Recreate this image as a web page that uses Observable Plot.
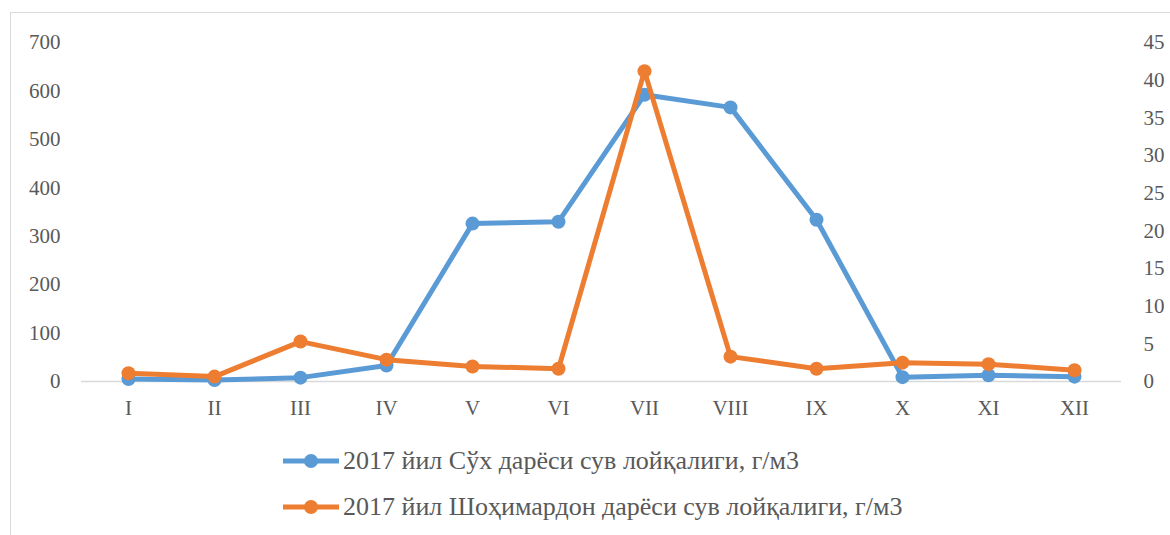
<!DOCTYPE html>
<html>
<head>
<meta charset="utf-8">
<script src="https://cdn.jsdelivr.net/npm/d3@7"></script>
<script src="https://cdn.jsdelivr.net/npm/@observablehq/plot@0.6"></script>
<style>
  html, body { margin: 0; padding: 0; background: #fff; }
  #wrap { position: relative; width: 1170px; height: 535px; overflow: hidden; font-family: "Liberation Serif", "Times New Roman", serif; }
  #frame { position: absolute; left: 10px; top: 12px; width: 1200px; height: 600px; border: 1px solid #d9d9d9; box-sizing: border-box; }
  #chart { position: absolute; left: 0; top: 0; }
  .leg { position: absolute; left: 283px; display: flex; align-items: center; font-size: 26px; line-height: 30px; color: #595959; white-space: nowrap; }
  .leg svg { margin-right: 4px; }
</style>
</head>
<body>
<div id="wrap">
  <div id="frame"></div>
  <div id="chart"></div>
  <div class="leg" style="top:446px"><svg width="56" height="30"><line x1="0" x2="56" y1="15" y2="15" stroke="#5B9BD5" stroke-width="5"/><circle cx="28" cy="15" r="7" fill="#5B9BD5"/></svg><span id="lab1"></span></div>
  <div class="leg" style="top:492px"><svg width="56" height="30"><line x1="0" x2="56" y1="15" y2="15" stroke="#ED7D31" stroke-width="5"/><circle cx="28" cy="15" r="7" fill="#ED7D31"/></svg><span id="lab2"></span></div>
</div>
<script>
const months = ["I","II","III","IV","V","VI","VII","VIII","IX","X","XI","XII"];
const sukh = [5, 3, 8, 33, 326, 330, 592, 566, 334, 9, 13, 10];
const shohimardon = [1.1, 0.65, 5.3, 2.9, 2.0, 1.7, 41.2, 3.3, 1.7, 2.5, 2.3, 1.5];
const leftTicks = [0, 100, 200, 300, 400, 500, 600, 700];
const rightTicks = [0, 5, 10, 15, 20, 25, 30, 35, 40, 45];
const seriesNames = ["2017 йил Сўх дарёси сув лойқалиги, г/м3", "2017 йил Шоҳимардон дарёси сув лойқалиги, г/м3"];
const colors = ["#5B9BD5", "#ED7D31"];

const leftMax = 700, rightMax = 45;
const k = leftMax / rightMax;

const blueData = months.map((m, i) => ({m, v: sukh[i]}));
const orangeData = months.map((m, i) => ({m, v: shohimardon[i] * k}));

document.getElementById("lab1").textContent = seriesNames[0];
document.getElementById("lab2").textContent = seriesNames[1];

const chart = Plot.plot({
  width: 1170,
  height: 430,
  marginLeft: 81,
  marginRight: 49,
  marginTop: 42,
  marginBottom: 49,
  style: { fontFamily: "'Liberation Serif', 'Times New Roman', serif", fontSize: "21px", color: "#595959", background: "transparent" },
  x: { type: "point", domain: months, padding: 0.5 },
  y: { domain: [0, leftMax] },
  marks: [
    Plot.ruleY([0], { stroke: "#d9d9d9", strokeWidth: 1.5 }),
    Plot.axisX({ tickSize: 0, tickPadding: 19, label: null, fill: "#595959" }),
    Plot.axisY(leftTicks, { anchor: "left", tickSize: 0, tickPadding: 21, label: null, fill: "#595959" }),
    Plot.axisY(rightTicks.map(t => t * k), { anchor: "right", tickSize: 0, tickPadding: 22, label: null, fill: "#595959", tickFormat: d => String(Math.round(d / k)) }),
    Plot.line(blueData, { x: "m", y: "v", stroke: colors[0], strokeWidth: 5, strokeLinejoin: "round" }),
    Plot.dot(blueData, { x: "m", y: "v", r: 7, fill: colors[0] }),
    Plot.line(orangeData, { x: "m", y: "v", stroke: colors[1], strokeWidth: 5, strokeLinejoin: "round" }),
    Plot.dot(orangeData, { x: "m", y: "v", r: 7, fill: colors[1] })
  ]
});
document.getElementById("chart").appendChild(chart);
</script>
</body>
</html>
